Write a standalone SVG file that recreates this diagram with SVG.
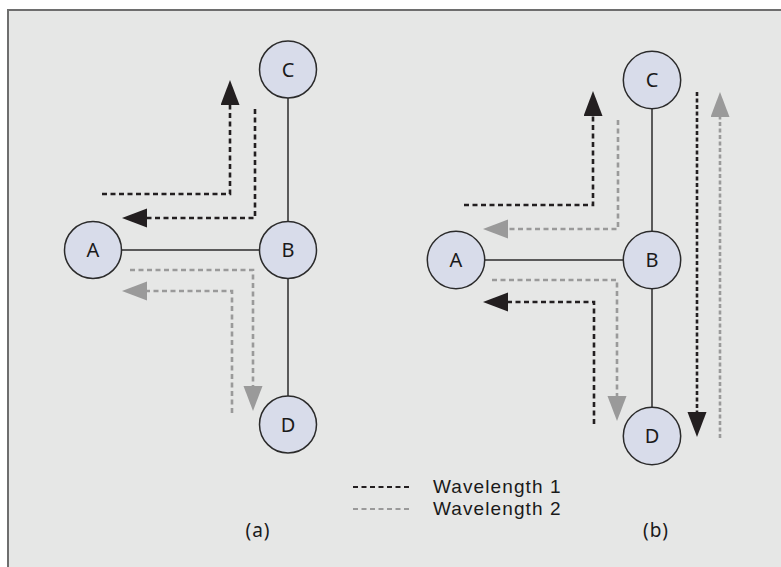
<svg xmlns="http://www.w3.org/2000/svg" width="781" height="567" viewBox="0 0 781 567">
<style>
.node circle{fill:#d8dcea;stroke:#2b2b2b;stroke-width:1.5}
.node text,.lbl{font-family:"Noto Sans","Open Sans","DejaVu Sans",sans-serif;font-size:20px;fill:#1a1a1a;text-anchor:middle}
.lbl{font-size:19px;letter-spacing:1px}
.link{stroke:#2b2b2b;stroke-width:1.5;fill:none}
.w1{stroke:#231f20;stroke-width:2.6;fill:none;stroke-dasharray:5 3.5}
.w2{stroke:#9a9a9a;stroke-width:2.6;fill:none;stroke-dasharray:5 3.5}
.d1{stroke-dasharray:4 2.5}
.leg{font-family:"Liberation Sans","Arial",sans-serif;font-size:19px;letter-spacing:1.1px;fill:#1a1a1a}
</style>
<defs>
<marker id="ab" markerUnits="userSpaceOnUse" markerWidth="26" markerHeight="20" refX="0" refY="9.5" orient="auto" viewBox="0 0 26 20"><path d="M0,0 L25,9.5 L0,19 z" fill="#231f20"/></marker>
<marker id="ag" markerUnits="userSpaceOnUse" markerWidth="26" markerHeight="20" refX="0" refY="9.5" orient="auto" viewBox="0 0 26 20"><path d="M0,0 L25,9.5 L0,19 z" fill="#9a9a9a"/></marker>
</defs>
<rect x="0" y="0" width="781" height="567" fill="#ffffff"/>
<rect x="7" y="9" width="774" height="558" fill="#e6e7e6"/>
<path d="M8,567 V10 H781" fill="none" stroke="#6e6e6e" stroke-width="2"/>

<g id="connectors">
<line class="link" x1="122" y1="250" x2="260" y2="250"/>
<line class="link" x1="288" y1="98" x2="288" y2="222"/>
<line class="link" x1="288" y1="278" x2="288" y2="396"/>
<line class="link" x1="485" y1="260" x2="624" y2="260"/>
<line class="link" x1="652" y1="109" x2="652" y2="232"/>
<line class="link" x1="652" y1="289" x2="652" y2="407"/>

<path class="w1" d="M102,194 H230 V105" marker-end="url(#ab)"/>
<path class="w1" d="M255,109 V218 H147" marker-end="url(#ab)"/>
<path class="w2" d="M130,270 H253 V386" marker-end="url(#ag)"/>
<path class="w2" d="M232,413 V291 H147" marker-end="url(#ag)"/>

<path class="w1" d="M464,205 H593 V116" marker-end="url(#ab)"/>
<path class="w2" d="M618,120 V229 H508" marker-end="url(#ag)"/>
<path class="w2" d="M492,280 H617 V396" marker-end="url(#ag)"/>
<path class="w1" d="M594,424 V302 H508" marker-end="url(#ab)"/>
<path class="w1 d1" d="M697,92 V412" marker-end="url(#ab)"/>
<path class="w2 d1" d="M720,438 V117" marker-end="url(#ag)"/>
</g>

<g id="nodeA1" class="node"><circle cx="93" cy="250" r="28.5"/><text x="93" y="257">A</text></g>
<g id="nodeB1" class="node"><circle cx="288" cy="250" r="28.5"/><text x="288" y="257">B</text></g>
<g id="nodeC1" class="node"><circle cx="288" cy="69.5" r="28.5"/><text x="288" y="76.5">C</text></g>
<g id="nodeD1" class="node"><circle cx="288" cy="424.5" r="28.5"/><text x="288" y="431.5">D</text></g>

<g id="nodeA2" class="node"><circle cx="456" cy="260" r="28.7"/><text x="456" y="267">A</text></g>
<g id="nodeB2" class="node"><circle cx="652" cy="260" r="28.7"/><text x="652" y="267">B</text></g>
<g id="nodeC2" class="node"><circle cx="652" cy="80" r="28.7"/><text x="652" y="87">C</text></g>
<g id="nodeD2" class="node"><circle cx="652" cy="436" r="28.7"/><text x="652" y="443">D</text></g>

<g id="legend">
<line class="w1" x1="353" y1="487" x2="412" y2="487" style="stroke-width:2.2"/>
<line class="w2" x1="353" y1="509" x2="412" y2="509" style="stroke-width:2.2"/>
<text class="leg" x="433" y="493">Wavelength 1</text>
<text class="leg" x="433" y="515">Wavelength 2</text>
</g>
<text class="lbl" x="258" y="537">(a)</text>
<text class="lbl" x="656" y="537">(b)</text>
</svg>
